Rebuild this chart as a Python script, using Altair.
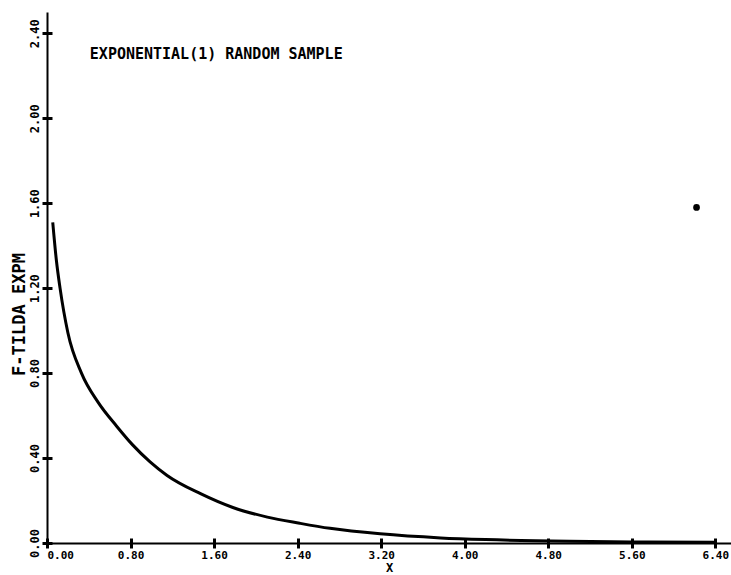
import altair as alt
import pandas as pd

# Estimated density curve
curve_x = [0.055, 0.09, 0.125, 0.2, 0.33, 0.49, 0.667, 0.82, 0.987, 1.15, 1.47, 1.78,
           2.11, 2.42, 2.71, 3.19, 3.77, 4.2, 5.0, 5.6, 6.4]
curve_y = [1.51, 1.33, 1.20, 0.99, 0.80, 0.662, 0.55, 0.462, 0.382, 0.318, 0.232, 0.167,
           0.122, 0.093, 0.069, 0.043, 0.024, 0.016, 0.008, 0.005, 0.003]

# Isolated point
point_x = [6.22]
point_y = [1.58]

x_ticks = [0.0, 0.8, 1.6, 2.4, 3.2, 4.0, 4.8, 5.6, 6.4]
y_ticks = [0.0, 0.4, 0.8, 1.2, 1.6, 2.0, 2.4]

note_text = ["EXPONENTIAL(1) RANDOM SAMPLE"]
note_x = [0.41]
note_y = [2.30]

FONT = "DejaVu Sans Mono"

curve_df = pd.DataFrame({"x": curve_x, "y": curve_y})
point_df = pd.DataFrame({"x": point_x, "y": point_y})
note_df = pd.DataFrame({"x": note_x, "y": note_y, "t": note_text})

xscale = alt.Scale(domain=[0, 6.55], nice=False, zero=False)
yscale = alt.Scale(domain=[0, 2.5], nice=False, zero=False)

xaxis = alt.Axis(values=x_ticks, format=".2f", title="X", grid=False, orient="bottom",
                 domainColor="black", domainWidth=2, tickColor="black", tickWidth=3,
                 tickSize=5, labelPadding=1, labelFont=FONT, labelFontSize=11,
                 labelFontWeight="bold", labelColor="black", titleFont=FONT,
                 titleFontSize=12, titleFontWeight="bold", titleColor="black",
                 titlePadding=2)
yaxis = alt.Axis(values=y_ticks, format=".2f", title="F-TILDA EXPM", grid=False, orient="left",
                 domainColor="black", domainWidth=2, tickColor="black", tickWidth=3,
                 tickSize=5, labelAngle=-90, labelAlign="center", labelBaseline="bottom",
                 labelPadding=1, labelFont=FONT, labelFontSize=12, labelFontWeight="bold",
                 labelColor="black", titleFont=FONT, titleFontSize=17,
                 titleFontWeight="bold", titleColor="black", titlePadding=0,
                 titleY=302)

# inner halves of the ticks that cross the axes
xaxis_in = alt.Axis(values=x_ticks, orient="bottom", offset=-5, domain=False, labels=False,
                    title=None, grid=False, tickColor="black", tickWidth=3, tickSize=5)
yaxis_in = alt.Axis(values=y_ticks, orient="left", offset=-5, domain=False, labels=False,
                    title=None, grid=False, tickColor="black", tickWidth=3, tickSize=5)

line = alt.Chart(curve_df).mark_line(color="black", strokeWidth=3, interpolate="monotone").encode(
    x=alt.X("x:Q", scale=xscale, axis=xaxis),
    y=alt.Y("y:Q", scale=yscale, axis=yaxis),
)
pt = alt.Chart(point_df).mark_point(filled=True, color="black", size=45, opacity=1).encode(
    x=alt.X("x:Q", scale=xscale),
    y=alt.Y("y:Q", scale=yscale),
)
note = alt.Chart(note_df).mark_text(font=FONT, fontSize=15, fontWeight="bold", color="black",
                                    align="left", baseline="middle").encode(
    x=alt.X("x:Q", scale=xscale),
    y=alt.Y("y:Q", scale=yscale),
    text="t:N",
)
main = alt.layer(line, pt, note)

inner = alt.Chart(point_df).mark_point(opacity=0).encode(
    x=alt.X("x:Q", scale=xscale, axis=xaxis_in),
    y=alt.Y("y:Q", scale=yscale, axis=yaxis_in),
)

chart = alt.layer(main, inner).resolve_axis(x="independent", y="independent").properties(
    width=684, height=531,
    background="white",
    autosize=alt.AutoSizeParams(type="none"),
    padding={"left": 47, "top": 12, "right": 0, "bottom": 32},
).configure_view(stroke=None)

chart.save("out.html", embed_options={"renderer": "svg", "actions": False})
